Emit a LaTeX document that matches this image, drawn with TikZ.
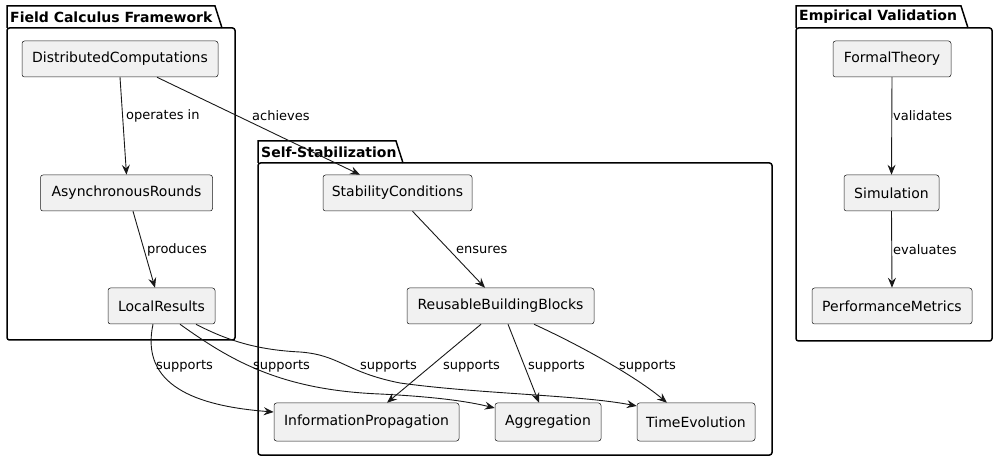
\documentclass[tikz,border=0pt]{standalone}
\usepackage{fontspec}
\setmainfont{DejaVu Sans}
\usetikzlibrary{arrows.meta}
\definecolor{nodefill}{HTML}{F1F1F1}
\definecolor{linec}{HTML}{181818}
\tikzset{
  box/.style={draw=linec, line width=0.5pt, fill=nodefill, rounded corners=2.5pt,
    minimum height=36pt, inner sep=0pt, font=\fontsize{14}{16}\selectfont, anchor=center},
  pkg/.style={draw=black, line width=1.5pt, rounded corners=2.5pt},
  pkgtab/.style={draw=black, line width=1.5pt},
  pkgtitle/.style={font=\bfseries\fontsize{14}{16}\selectfont, anchor=west, inner sep=0pt},
  conn/.style={draw=linec, line width=0.9pt, -{Stealth[length=10pt,width=8pt,inset=3.5pt]}},
  lbl/.style={font=\fontsize{13}{15}\selectfont, anchor=west, inner sep=0pt}
}
\begin{document}
\begin{tikzpicture}[x=1pt,y=-1pt]
\useasboundingbox (0,0) rectangle (994,462);
% packages
\draw[pkgtab] (7,28) -- (7,6) -- (215,6) -- (222,28);
\draw[pkg] (7,28) rectangle (235,340);
\node[pkgtitle] (t1) at (10,17) {Field Calculus Framework};
\draw[pkgtab] (258,163) -- (258,141) -- (396,141) -- (403,163);
\draw[pkg] (258,163) rectangle (772,455);
\node[pkgtitle] (t2) at (261,152) {Self-Stabilization};
\draw[pkgtab] (796,28) -- (796,6) -- (961,6) -- (968,28);
\draw[pkg] (796,28) rectangle (992,341);
\node[pkgtitle] (t3) at (799,17) {Empirical Validation};
% nodes
\node[box, minimum width=196pt] (DC) at (120,59) {DistributedComputations};
\node[box, minimum width=172pt] (AR) at (126.5,193) {AsynchronousRounds};
\node[box, minimum width=107pt] (LR) at (161.5,306) {LocalResults};
\node[box, minimum width=149pt] (SC) at (397.5,193) {StabilityConditions};
\node[box, minimum width=187pt] (RBB) at (500.5,306) {ReusableBuildingBlocks};
\node[box, minimum width=185pt, minimum height=38pt] (IP) at (366.5,422) {InformationPropagation};
\node[box, minimum width=106pt, minimum height=38pt] (AG) at (548,422) {Aggregation};
\node[box, minimum width=118pt, minimum height=38pt] (TE) at (696,422) {TimeEvolution};
\node[box, minimum width=118pt] (FT) at (892,59) {FormalTheory};
\node[box, minimum width=95pt] (SIM) at (891.5,193) {Simulation};
\node[box, minimum width=160pt] (PM) at (892,306) {PerformanceMetrics};
% edges
\draw[conn] (DC.south) -- (AR.north);
\node[lbl] (l1) at (126,116) {operates in};
\draw[conn] ([xshift=37pt]DC.south) -- ([xshift=-37.5pt]SC.north);
\node[lbl] (l2) at (252,116) {achieves};
\draw[conn] ([xshift=6.5pt]AR.south) -- ([xshift=-6.5pt]LR.north);
\node[lbl] (l3) at (147,250) {produces};
\draw[conn] ([xshift=15pt]SC.south) -- ([xshift=-15.5pt]RBB.north);
\node[lbl] (l4) at (456,250) {ensures};
\draw[conn] (FT.south) -- (SIM.north);
\node[lbl] (l5) at (893,116) {validates};
\draw[conn] (SIM.south) -- (PM.north);
\node[lbl] (l6) at (893,250) {evaluates};
\draw[conn] ([xshift=-19.5pt]RBB.south) -- ([xshift=20.5pt]IP.north);
\node[lbl] (l7) at (443,366) {supports};
\draw[conn] ([xshift=7.5pt]RBB.south) -- ([xshift=-9pt]AG.north);
\node[lbl] (l8) at (528,366) {supports};
\draw[conn] ([xshift=33.5pt]RBB.south) .. controls (590,350) and (640,380) .. ([xshift=-29pt]TE.north);
\node[lbl] (l9) at (619,366) {supports};
\draw[conn] ([xshift=-8.5pt]LR.south) .. controls (140,385) and (195,406) .. ([yshift=10pt]IP.west);
\node[lbl] (l10) at (156,366) {supports};
\draw[conn] ([xshift=18.5pt]LR.south) .. controls (230,360) and (280,390) .. (380,394) .. controls (440,397) and (470,402) .. ([yshift=14pt]AG.west);
\node[lbl] (l11) at (253,366) {supports};
\draw[conn] ([xshift=34.5pt]LR.south) .. controls (230,342) and (260,350) .. (300,352) .. controls (340,355) and (345,372) .. (400,383) .. controls (480,394) and (580,395) .. ([yshift=16pt]TE.west);
\node[lbl] (l12) at (360,366) {supports};
\end{tikzpicture}
\end{document}
